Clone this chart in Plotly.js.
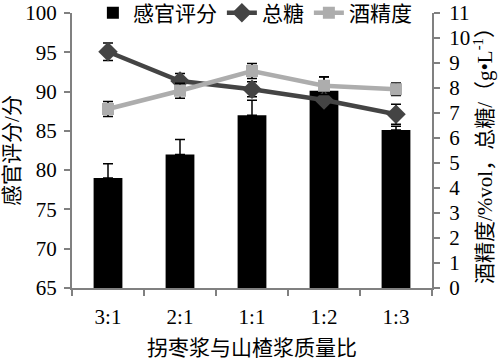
<!DOCTYPE html>
<html><head><meta charset="utf-8">
<script src="https://cdn.plot.ly/plotly-3.0.1.min.js"></script>
<style>html,body{margin:0;padding:0;background:#fff}#c{width:504px;height:360px}</style>
</head><body><div id="c"></div>
<script>
const categories = ["3:1","2:1","1:1","1:2","1:3"];
const sensoryScore = [79.0, 82.0, 87.0, 90.1, 85.1];
const sensoryErr = [1.8, 1.9, 1.9, 1.8, 0.5];
const totalSugar = [9.45, 8.28, 7.95, 7.52, 6.95];
const sugarErr = [0.35, 0.3, 0.3, 0.3, 0.4];
const alcohol = [7.16, 7.89, 8.68, 8.09, 7.95];
const alcoholErr = [0.3, 0.3, 0.3, 0.35, 0.25];
const names = ["感官评分","总糖","酒精度"];

const FONT = "Times New Roman, Liberation Serif, Noto Sans CJK SC, serif";
const AX = "#808080";

const traces = [
  {type:"bar", name:names[0], x:categories, y:sensoryScore, yaxis:"y", width:0.4,
   marker:{color:"#000"},
   error_y:{type:"data", array:sensoryErr, symmetric:false, arrayminus:[0,0,0,0,0], color:"#000", thickness:1.5, width:5}},
  {type:"scatter", mode:"lines+markers", name:names[1], x:categories, y:totalSugar, yaxis:"y2",
   line:{color:"#444", width:4.5}, marker:{symbol:"diamond", size:15, color:"#444"},
   error_y:{type:"data", array:sugarErr, color:"#000", thickness:1.5, width:5}},
  {type:"scatter", mode:"lines+markers", name:names[2], x:categories, y:alcohol, yaxis:"y2",
   line:{color:"#adadad", width:4.5}, marker:{symbol:"square", size:12, color:"#adadad"},
   error_y:{type:"data", array:alcoholErr, color:"#000", thickness:1.5, width:5}}
];

const layout = {
  width:504, height:360,
  margin:{l:72, r:72, t:13, b:72, pad:0, autoexpand:false},
  paper_bgcolor:"#fff", plot_bgcolor:"#fff",
  font:{family:FONT, size:21, color:"#000"},
  showlegend:true,
  legend:{orientation:"h", x:0.058, y:1.0, xanchor:"left", yanchor:"middle",
          bgcolor:"rgba(255,255,255,0)", font:{size:21}, traceorder:"normal"},
  bargap:0.6,
  xaxis:{type:"category", showline:true, linecolor:AX, linewidth:2, ticks:"outside",
         tickcolor:AX, tickwidth:2, ticklen:6, tickson:"boundaries", showgrid:false,
         zeroline:false, range:[-0.5,4.5], ticklabelstandoff:9,
         title:{text:"拐枣浆与山楂浆质量比", standoff:12, font:{size:21}}},
  yaxis:{range:[65,100], dtick:5, showline:true, linecolor:AX, linewidth:2,
         ticks:"outside", tickcolor:AX, tickwidth:2, ticklen:6, showgrid:false, zeroline:false,
         ticklabelstandoff:3,
         title:{text:"感官评分/分", standoff:4, font:{size:21}}},
  yaxis2:{range:[0,11], dtick:1, overlaying:"y", side:"right", showline:true, linecolor:AX, linewidth:2,
         ticks:"outside", tickcolor:AX, tickwidth:2, ticklen:6, showgrid:false, zeroline:false,
         ticklabelstandoff:5,
         title:{text:"酒精度/%vol，总糖/（g•L<sup>-1</sup>）", standoff:6, font:{size:21}}}
};

Plotly.newPlot("c", traces, layout, {staticPlot:true, displayModeBar:false});
</script></body></html>
